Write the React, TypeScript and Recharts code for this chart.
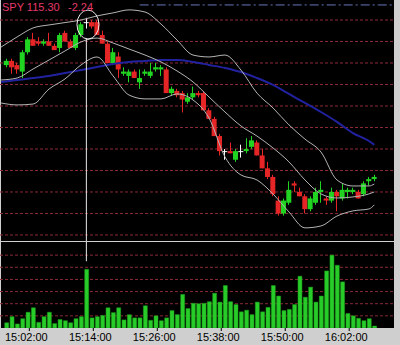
import {
  Bar,
  CartesianGrid,
  ComposedChart,
  Line,
  ReferenceDot,
  ReferenceLine,
  XAxis,
  YAxis,
} from "recharts";

// one-minute candles, 14:57 .. 16:06
const opens = [
  115.79, 115.81, 115.79, 115.76, 115.85, 115.91, 115.9, 115.89, 115.9, 115.88,
  115.87, 115.94, 115.9, 115.87, 115.93, 115.99, 115.99, 115.99, 115.93, 115.89,
  115.8, 115.83, 115.75, 115.74, 115.76, 115.71, 115.75, 115.74, 115.77, 115.77,
  115.77, 115.66, 115.67, 115.66, 115.62, 115.64, 115.66, 115.66, 115.58, 115.54,
  115.46, 115.39, 115.39, 115.35, 115.39, 115.39, 115.41, 115.43, 115.37, 115.31,
  115.27, 115.16, 115.1, 115.15, 115.24, 115.2, 115.18, 115.12, 115.15, 115.2,
  115.17, 115.16, 115.2, 115.17, 115.2, 115.2, 115.2, 115.19, 115.25, 115.26,
];
const highs = [
  115.82, 115.82, 115.8, 115.86, 115.92, 115.94, 115.92, 115.91, 115.94, 115.89,
  115.94, 115.95, 115.91, 115.94, 115.99, 116.01, 116.0, 116.0, 115.95, 115.9,
  115.87, 115.85, 115.78, 115.77, 115.77, 115.77, 115.77, 115.8, 115.8, 115.79,
  115.78, 115.69, 115.68, 115.67, 115.66, 115.69, 115.67, 115.67, 115.59, 115.55,
  115.47, 115.4, 115.43, 115.4, 115.42, 115.45, 115.46, 115.44, 115.4, 115.34,
  115.28, 115.18, 115.17, 115.25, 115.25, 115.22, 115.19, 115.18, 115.22, 115.25,
  115.18, 115.22, 115.21, 115.24, 115.22, 115.22, 115.21, 115.25, 115.27, 115.28,
];
const lows = [
  115.78, 115.75, 115.75, 115.73, 115.84, 115.88, 115.88, 115.88, 115.88, 115.86,
  115.85, 115.9, 115.87, 115.86, 115.92, 115.96, 115.96, 115.93, 115.89, 115.8,
  115.79, 115.73, 115.74, 115.71, 115.73, 115.68, 115.74, 115.73, 115.76, 115.74,
  115.66, 115.65, 115.64, 115.57, 115.61, 115.63, 115.64, 115.58, 115.54, 115.46,
  115.37, 115.35, 115.38, 115.34, 115.36, 115.38, 115.4, 115.37, 115.31, 115.26,
  115.18, 115.09, 115.09, 115.14, 115.2, 115.18, 115.1, 115.11, 115.14, 115.15,
  115.14, 115.15, 115.11, 115.16, 115.17, 115.19, 115.17, 115.18, 115.23, 115.25,
];
const closes = [
  115.81, 115.78, 115.77, 115.85, 115.91, 115.88, 115.89, 115.9, 115.88, 115.86,
  115.93, 115.9, 115.87, 115.93, 115.98, 115.99, 115.97, 115.93, 115.89, 115.8,
  115.85, 115.77, 115.76, 115.76, 115.73, 115.73, 115.76, 115.76, 115.78, 115.78,
  115.66, 115.68, 115.65, 115.63, 115.64, 115.66, 115.65, 115.58, 115.54, 115.46,
  115.39, 115.39, 115.38, 115.39, 115.39, 115.4, 115.44, 115.37, 115.31, 115.27,
  115.19, 115.1, 115.16, 115.21, 115.23, 115.18, 115.12, 115.17, 115.2, 115.21,
  115.16, 115.2, 115.18, 115.21, 115.21, 115.21, 115.17, 115.24, 115.26, 115.27,
];
// volume, thousands of shares
const volumes = [
  13, 28, 10, 23, 39, 50, 14, 28, 39, 11, 21, 18, 13, 23, 28, 145, 25, 28, 31, 50,
  38, 50, 20, 33, 25, 25, 55, 19, 30, 18, 25, 43, 33, 83, 48, 61, 60, 61, 65, 86,
  64, 105, 65, 58, 40, 44, 33, 64, 40, 51, 105, 79, 43, 46, 58, 128, 76, 101, 64, 79,
  141, 180, 155, 114, 36, 30, 24, 18, 23, 5,
];

// bollinger bands + moving average, read at these candle positions
const bandIdx = [-1, 2, 5, 8, 11, 14, 17, 20, 23, 26, 29, 32, 35, 38, 41, 44, 47, 50, 53, 56, 59, 62, 65, 68, 69];
const upperBand = [
  115.874, 115.921, 115.963, 115.977, 115.988, 116.0, 116.019, 116.033, 116.047, 116.037,
  115.981, 115.907, 115.837, 115.828, 115.837, 115.767, 115.66, 115.591, 115.512, 115.446,
  115.386, 115.256, 115.228, 115.228, 115.237,
];
const midBand = [
  115.721, 115.73, 115.772, 115.814, 115.856, 115.898, 115.916, 115.893, 115.865, 115.837,
  115.805, 115.763, 115.712, 115.642, 115.572, 115.507, 115.46, 115.405, 115.34, 115.256,
  115.191, 115.172, 115.177, 115.191, 115.2,
];
const lowerBand = [
  115.614, 115.605, 115.609, 115.679, 115.726, 115.791, 115.828, 115.74, 115.651, 115.633,
  115.633, 115.656, 115.628, 115.544, 115.363, 115.279, 115.256, 115.191, 115.107, 115.033,
  115.042, 115.088, 115.112, 115.121, 115.14,
];
const maLine = [
  115.712, 115.721, 115.73, 115.74, 115.753, 115.767, 115.781, 115.795, 115.805, 115.809,
  115.814, 115.814, 115.805, 115.791, 115.777, 115.758, 115.73, 115.698, 115.656, 115.614,
  115.572, 115.526, 115.474, 115.437, 115.419,
];

const timeTicks = [4.3, 16.3, 28.3, 40.3, 52.3, 64.3];
const timeLabels = ["15:02:00", "15:14:00", "15:26:00", "15:38:00", "15:50:00", "16:02:00"];

const priceGrid = [116.0, 115.9, 115.8, 115.7, 115.6, 115.5, 115.4, 115.3, 115.2, 115.1, 115.0];
const volumeGrid = [30, 60, 90, 120, 150, 180];

const PRICE_DOMAIN: [number, number] = [114.972, 116.093];
const VOLUME_DOMAIN: [number, number] = [0, 212.5];
const X_DOMAIN: [number, number] = [-1.2, 72.7];

const cursorIdx = 15;
const cursorPrice = 115.912;
const cursorVolume = 165;
const alertLevel = 116.07;
const alertFrom = 25;

const GREEN = "#22d422";
const RED = "#e62626";
const GRID = "#8a2a36";
const FONT = "'Liberation Sans', Arial, sans-serif";

const candles = opens.map((open, i) => ({
  i,
  open,
  high: highs[i],
  low: lows[i],
  close: closes[i],
  vol: volumes[i],
}));

const pts = (vals: number[]) => bandIdx.map((i, k) => ({ i, v: vals[k] }));

function Candle(props: any) {
  const { x, y, width, height, payload } = props;
  const { open, close, high, low } = payload;
  const top = Math.min(y, y + height);
  const h = Math.abs(height);
  const py = (v: number) => top + ((high - v) / (high - low)) * h;
  const color = close > open ? GREEN : close < open ? RED : "#ffffff";
  const cx = Math.floor(x + width / 2) + 0.5;
  const bTop = py(Math.max(open, close));
  const bBot = py(Math.min(open, close));
  return (
    <g>
      <line x1={cx} x2={cx} y1={top} y2={top + h} stroke={color} />
      <rect x={x} y={bTop} width={width} height={Math.max(1, bBot - bTop)} fill={color} />
    </g>
  );
}

function TimeTick(props: any) {
  const { x, y, payload } = props;
  const label = timeLabels[timeTicks.indexOf(payload.value)];
  return (
    <text x={x - 3} y={y} dy="0.75em" textAnchor="middle" fill="#000" fontSize={11} fontFamily={FONT}>
      {label}
    </text>
  );
}

const bandLine = (vals: number[], stroke: string, width: number) => (
  <Line
    data={pts(vals)}
    dataKey="v"
    type="monotone"
    stroke={stroke}
    strokeWidth={width}
    dot={false}
    activeDot={false}
    isAnimationActive={false}
  />
);

export default function App() {
  return (
    <div
      style={{
        position: "fixed",
        left: 0,
        top: 0,
        width: 400,
        height: 345,
        background: "#cfcfcf",
        overflow: "hidden",
      }}
    >
      <div style={{ position: "absolute", left: 1, top: 0, width: 393, height: 241, background: "#000" }} />
      <div style={{ position: "absolute", left: 1, top: 242, width: 393, height: 86, background: "#000" }} />

      <div style={{ position: "absolute", left: 0, top: 0 }}>
        <ComposedChart width={394} height={241} data={candles} margin={{ top: 0, right: 0, bottom: 0, left: 0 }}>
          <CartesianGrid
            vertical={false}
            horizontalValues={priceGrid}
            stroke={GRID}
            strokeDasharray="3 2"
          />
          <XAxis dataKey="i" type="number" domain={X_DOMAIN} allowDataOverflow hide />
          <YAxis type="number" domain={PRICE_DOMAIN} ticks={priceGrid} interval={0} allowDataOverflow hide />
          <ReferenceLine
            segment={[
              { x: alertFrom, y: alertLevel },
              { x: X_DOMAIN[1], y: alertLevel },
            ]}
            stroke="#6677bb"
            strokeDasharray="9 3 2 3"
          />
          {bandLine(maLine, "#2222a0", 2)}
          {bandLine(upperBand, "#b4b4b4", 1)}
          {bandLine(midBand, "#b4b4b4", 1)}
          {bandLine(lowerBand, "#b4b4b4", 1)}
          <Bar
            dataKey={(d: any) => [d.low, d.high]}
            barSize={5}
            shape={<Candle />}
            isAnimationActive={false}
          />
          <ReferenceLine
            segment={[
              { x: cursorIdx, y: cursorPrice },
              { x: cursorIdx, y: PRICE_DOMAIN[0] },
            ]}
            stroke="#e8e8e8"
          />
          <ReferenceDot
            x={cursorIdx + 0.3}
            y={115.979}
            shape={(p: any) => <ellipse cx={p.cx} cy={p.cy} rx={11} ry={14.5} fill="none" stroke="#f0f0f0" />}
          />
        </ComposedChart>
      </div>

      <div style={{ position: "absolute", left: 0, top: 242 }}>
        <ComposedChart width={400} height={103} data={candles} margin={{ top: 0, right: 6, bottom: 0, left: 0 }}>
          <CartesianGrid
            vertical={false}
            horizontalValues={volumeGrid}
            stroke={GRID}
            strokeDasharray="3 2"
          />
          <XAxis
            dataKey="i"
            type="number"
            domain={X_DOMAIN}
            allowDataOverflow
            ticks={timeTicks}
            interval={0}
            height={17}
            axisLine={false}
            tickLine={{ stroke: "#000" }}
            tickSize={3}
            tickMargin={2}
            tick={<TimeTick />}
          />
          <YAxis type="number" domain={VOLUME_DOMAIN} ticks={volumeGrid} interval={0} allowDataOverflow hide />
          <Bar dataKey="vol" barSize={4} fill="#28cc28" stroke="#1a9a1a" strokeWidth={0.5} isAnimationActive={false} />
          <ReferenceLine
            segment={[
              { x: cursorIdx, y: cursorVolume },
              { x: cursorIdx, y: VOLUME_DOMAIN[1] },
            ]}
            stroke="#e8e8e8"
          />
        </ComposedChart>
      </div>

      <div
        style={{
          position: "absolute",
          left: 2,
          top: 1,
          font: `11px ${FONT}`,
          color: "#e8396a",
          whiteSpace: "pre",
        }}
      >
        SPY 115.30
      </div>
      <div
        style={{
          position: "absolute",
          left: 68,
          top: 1,
          font: `11px ${FONT}`,
          color: "#e8396a",
        }}
      >
        -2.24
      </div>
    </div>
  );
}
